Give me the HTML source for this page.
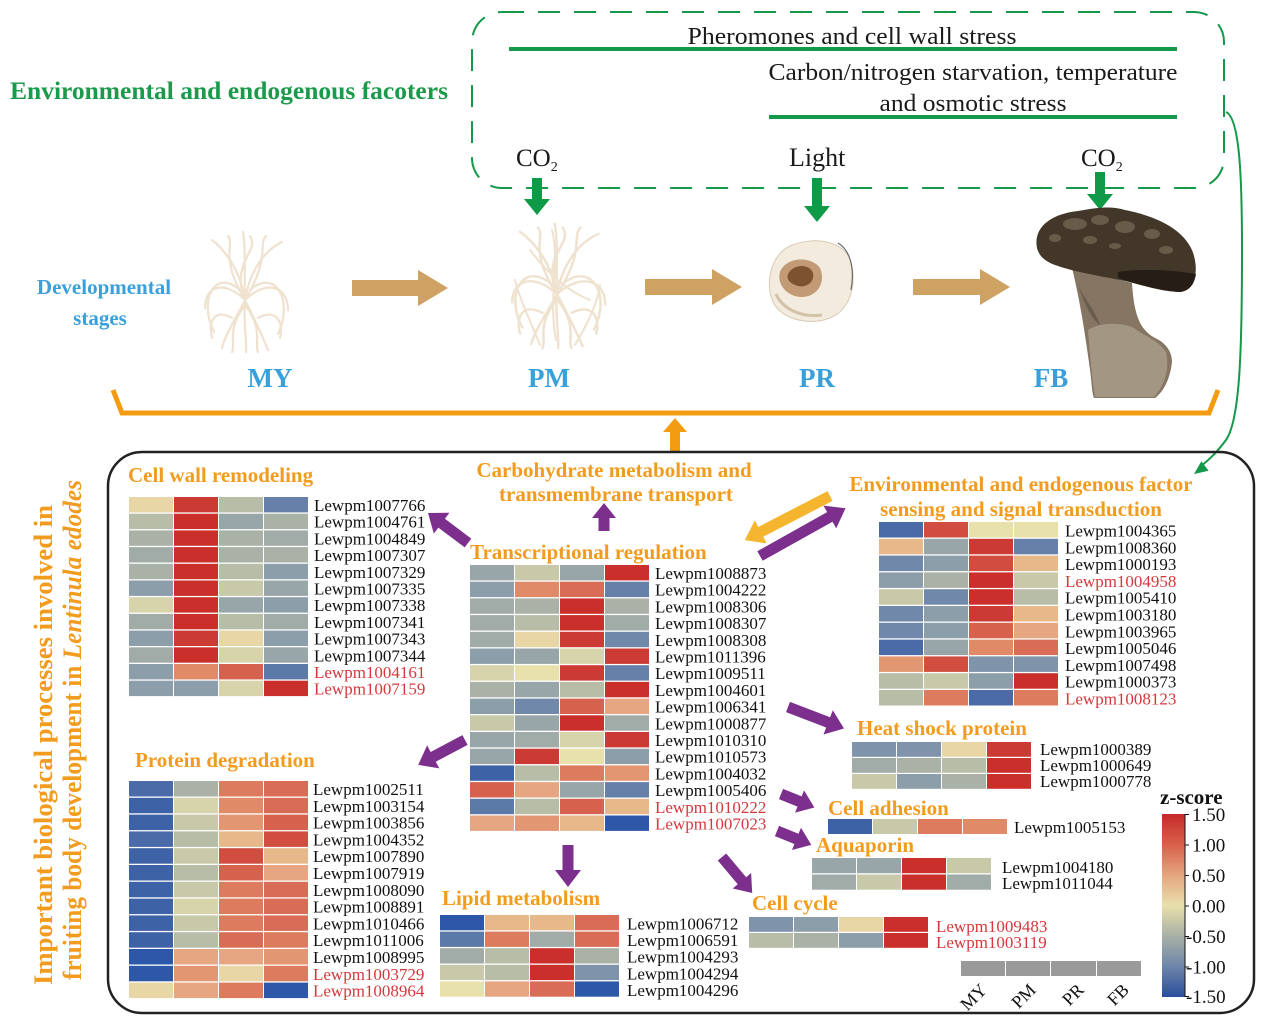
<!DOCTYPE html>
<html><head><meta charset="utf-8">
<style>
html,body{margin:0;padding:0;background:#fff;}
svg{display:block;}
text{font-family:"Liberation Serif","Times New Roman",serif;}
.ot{fill:#f29c1f;font-weight:bold;font-size:21px;}
.lb{font-size:17px;fill:#111;}
.rd{fill:#d4383c;}
.R{fill:#cb2f2b}.r{fill:#cc3b33}.o{fill:#d14d3f}.p{fill:#d6624e}.q{fill:#d86c56}.s{fill:#dc7b5d}.t{fill:#e08a67}.u{fill:#e29671}.v{fill:#e5a681}.w{fill:#e6b88a}.y{fill:#e8d6a6}.Y{fill:#e9e1ab}.z{fill:#d7d4ab}.g{fill:#c8c9a9}.h{fill:#b8bda7}.i{fill:#aab2a7}.j{fill:#a1aca9}.k{fill:#98a6aa}.m{fill:#8d9eab}.n{fill:#7f93ab}.b{fill:#7089ab}.B{fill:#6680a9}.c{fill:#5b7aa8}.d{fill:#4b6ba8}.e{fill:#3e62a6}.f{fill:#2d58a8}
</style></head>
<body>
<svg width="1267" height="1033" viewBox="0 0 1267 1033" xmlns="http://www.w3.org/2000/svg">
<defs>
<linearGradient id="cb" x1="0" y1="0" x2="0" y2="1">
<stop offset="0" stop-color="#c62a2a"/>
<stop offset="0.167" stop-color="#d8604a"/>
<stop offset="0.333" stop-color="#e5a57f"/>
<stop offset="0.5" stop-color="#e8e0ab"/>
<stop offset="0.667" stop-color="#a8b0a6"/>
<stop offset="0.833" stop-color="#6d86aa"/>
<stop offset="1" stop-color="#2b4d9e"/>
</linearGradient>
<g id="myc" fill="none" stroke="#efe2cf" stroke-width="2.2" stroke-linecap="round">
<path d="M245,300 C240,270 225,250 212,240"/>
<path d="M245,300 C250,270 265,250 282,242"/>
<path d="M245,300 C244,270 246,250 243,232"/>
<path d="M245,300 C225,280 205,285 205,308"/>
<path d="M245,300 C265,280 288,285 288,310"/>
<path d="M245,300 C235,320 225,335 222,348"/>
<path d="M245,300 C255,320 262,335 268,350"/>
<path d="M245,300 C243,320 247,340 246,352"/>
<path d="M240,290 C215,268 198,300 214,332"/>
<path d="M250,290 C275,268 294,300 278,334"/>
<path d="M245,300 C230,262 260,252 250,236"/>
<path d="M232,318 C214,308 208,322 212,338"/>
<path d="M258,318 C276,308 284,322 280,338"/>
<path d="M242,295 C220,255 235,245 228,236"/>
<path d="M248,295 C270,255 258,245 266,236"/>
<path d="M245,305 C226,330 236,344 232,352"/>
<path d="M245,305 C264,330 254,344 258,352"/>
</g>
</defs>

<!-- ===== TOP: dashed box ===== -->
<rect x="472" y="12" width="752" height="176" rx="30" fill="none" stroke="#14994a" stroke-width="2" stroke-dasharray="22,14"/>
<text x="852" y="44" text-anchor="middle" font-size="24.5" fill="#1a1a1a" textLength="329" lengthAdjust="spacingAndGlyphs">Pheromones and cell wall stress</text>
<rect x="509" y="47" width="668" height="4" fill="#14994a"/>
<text x="973" y="80" text-anchor="middle" font-size="24.5" fill="#1a1a1a" textLength="409" lengthAdjust="spacingAndGlyphs">Carbon/nitrogen starvation, temperature</text>
<text x="973" y="111" text-anchor="middle" font-size="24.5" fill="#1a1a1a" textLength="187" lengthAdjust="spacingAndGlyphs">and osmotic stress</text>
<rect x="769" y="115" width="408" height="4" fill="#14994a"/>
<text x="10" y="99" font-size="25" font-weight="bold" fill="#1a9a4a" textLength="438" lengthAdjust="spacingAndGlyphs">Environmental and endogenous facoters</text>

<!-- CO2 / Light -->
<text x="516" y="166" font-size="25" fill="#1a1a1a">CO<tspan font-size="14" dy="5">2</tspan></text>
<text x="789" y="166" font-size="26" fill="#1a1a1a">Light</text>
<text x="1081" y="166" font-size="25" fill="#1a1a1a">CO<tspan font-size="14" dy="5">2</tspan></text>

<!-- green arrows -->
<g fill="#0f9a48">
<polygon transform="translate(537,178) rotate(90)" points="0,-5 21,-5 21,-13 37,0 21,13 21,5 0,5"/>
<polygon transform="translate(817,178) rotate(90)" points="0,-5 28,-5 28,-13 44,0 28,13 28,5 0,5"/>
<polygon transform="translate(1100,172) rotate(90)" points="0,-5 22,-5 22,-13 38,0 22,13 22,5 0,5"/>
</g>

<!-- green curve arrow -->
<path d="M1226,112 C1240,118 1242,180 1242,250 C1242,350 1240,420 1226,440 C1215,455 1206,462 1200,467" fill="none" stroke="#14994a" stroke-width="2"/>
<polygon points="1194,474 1208.6,470.8 1201.4,461.2" fill="#14994a"/>

<!-- Developmental stages -->
<text x="104" y="294" text-anchor="middle" font-size="21" font-weight="bold" fill="#3aa0da">Developmental</text>
<text x="100" y="325" text-anchor="middle" font-size="21" font-weight="bold" fill="#3aa0da">stages</text>

<!-- mycelium -->
<use href="#myc"/>
<use href="#myc" transform="translate(557,289) scale(1.12,1.04) translate(-245,-295)"/>
<g fill="none" stroke="#efe2cf" stroke-width="2" stroke-linecap="round">
<path d="M540,345 C530,320 520,300 515,280"/>
<path d="M575,345 C590,320 598,300 600,285"/>
<path d="M552,230 C560,260 548,300 556,340"/>
<path d="M530,250 C545,270 565,290 590,300"/>
</g>

<!-- brown arrows -->
<g fill="#cda262">
<polygon transform="translate(352,288)" points="0,-8 66,-8 66,-18 96,0 66,18 66,8 0,8"/>
<polygon transform="translate(645,287)" points="0,-8 67,-8 67,-18 97,0 67,18 67,8 0,8"/>
<polygon transform="translate(913,287)" points="0,-8 67,-8 67,-18 97,0 67,18 67,8 0,8"/>
</g>

<!-- primordium -->
<path d="M790,246 C812,236 845,240 851,262 C857,285 850,310 830,318 C810,326 782,320 773,302 C765,284 770,256 790,246Z" fill="#f2ebde" stroke="#d9cbb4" stroke-width="1"/>
<path d="M838,243 C850,250 855,268 851,290" stroke="#6a6a6a" stroke-width="1.2" fill="none"/>
<path d="M780,272 C786,256 812,256 820,268 C826,282 818,296 803,297 C790,298 776,286 780,272Z" fill="#c29a76"/>
<path d="M788,274 C794,263 810,264 813,273 C815,282 806,288 798,286 C791,284 786,280 788,274Z" fill="#7c5230"/>
<path d="M776,294 C782,308 800,318 822,315" stroke="#d2c2a8" stroke-width="3" fill="none"/>

<!-- mushroom -->
<path d="M1072,268 C1080,300 1086,340 1090,370 C1092,385 1092,394 1094,398 L1155,398 C1163,392 1170,380 1172,362 C1172,350 1164,342 1155,338 C1140,330 1134,315 1132,283 Z" fill="#857562"/>
<path d="M1088,330 C1100,322 1122,322 1134,328 C1144,336 1158,340 1166,352 C1170,370 1164,386 1154,397 L1095,397 C1092,380 1090,355 1088,330Z" fill="#a39683"/>
<path d="M1078,285 C1085,300 1095,310 1100,325 C1092,320 1085,305 1078,285Z" fill="#6b5d4c"/>
<path d="M1037,248 C1033,228 1050,214 1078,211 C1100,207 1112,206 1125,210 C1155,216 1182,228 1192,250 C1200,270 1195,290 1180,292 C1160,292 1140,284 1120,280 C1100,276 1075,272 1058,266 C1045,262 1039,256 1037,248Z" fill="#433729"/>
<path d="M1118,272 C1140,268 1175,270 1196,274 C1194,286 1188,292 1178,292 C1158,290 1138,284 1118,278Z" fill="#261e16"/>
<g fill="#6e604e" opacity="0.9">
<ellipse cx="1075" cy="224" rx="12" ry="6"/>
<ellipse cx="1100" cy="220" rx="9" ry="5"/>
<ellipse cx="1125" cy="227" rx="10" ry="6"/>
<ellipse cx="1152" cy="234" rx="8" ry="5"/>
<ellipse cx="1090" cy="240" rx="7" ry="4"/>
<ellipse cx="1166" cy="250" rx="7" ry="4"/>
<ellipse cx="1055" cy="238" rx="6" ry="4"/>
<ellipse cx="1115" cy="246" rx="6" ry="3"/>
</g>

<!-- stage labels -->
<g font-size="27" font-weight="bold" fill="#3aa0da" text-anchor="middle">
<text x="270" y="387">MY</text>
<text x="549" y="387">PM</text>
<text x="817" y="387">PR</text>
<text x="1051" y="387">FB</text>
</g>

<!-- orange bracket -->
<polyline points="113,390 122,413 1209,413 1218,390" fill="none" stroke="#f39c12" stroke-width="5"/>
<polygon transform="translate(675,451) rotate(-90)" points="0,-5 19,-5 19,-12 33,0 19,12 19,5 0,5" fill="#f39c12"/>

<!-- ===== LOWER BOX ===== -->
<rect x="108" y="452" width="1146" height="561" rx="34" fill="none" stroke="#222" stroke-width="2.5"/>

<text text-anchor="middle" transform="translate(52,745) rotate(-90)" style="fill:#f29c1f;font-weight:bold;font-size:26px" textLength="480" lengthAdjust="spacingAndGlyphs">Important biological processes involved in</text>
<text text-anchor="middle" transform="translate(81,730) rotate(-90)" style="fill:#f29c1f;font-weight:bold;font-size:26px" textLength="500" lengthAdjust="spacingAndGlyphs">fruiting body development in <tspan font-style="italic">Lentinula edodes</tspan></text>

<!-- titles -->
<text class="ot" x="128" y="482">Cell wall remodeling</text>
<text class="ot" x="614" y="477" text-anchor="middle">Carbohydrate metabolism and</text>
<text class="ot" x="616" y="501" text-anchor="middle">transmembrane transport</text>
<text class="ot" x="1021" y="491" text-anchor="middle">Environmental and endogenous factor</text>
<text class="ot" x="1021" y="516" text-anchor="middle">sensing and signal transduction</text>
<text class="ot" x="470" y="559">Transcriptional regulation</text>
<text class="ot" x="135" y="767">Protein degradation</text>
<text class="ot" x="857" y="735">Heat shock protein</text>
<text class="ot" x="828" y="815">Cell adhesion</text>
<text class="ot" x="816" y="852">Aquaporin</text>
<text class="ot" x="442" y="905">Lipid metabolism</text>
<text class="ot" x="752" y="910">Cell cycle</text>

<!-- purple arrows -->
<g fill="#7d2f8e">
<polygon transform="translate(468,543) rotate(-143.1)" points="0,-5.5 33,-5.5 33,-13 50,0 33,13 33,5.5 0,5.5"/>
<polygon transform="translate(604,531) rotate(-90)" points="0,-5.5 13,-5.5 13,-12 28,0 13,12 13,5.5 0,5.5"/>
<polygon transform="translate(760,556) rotate(-29.2)" points="0,-5.5 80,-5.5 80,-13 98,0 80,13 80,5.5 0,5.5"/>
<polygon transform="translate(465,740) rotate(152)" points="0,-5.5 36,-5.5 36,-13 53,0 36,13 36,5.5 0,5.5"/>
<polygon transform="translate(568,845) rotate(90)" points="0,-5.5 25,-5.5 25,-13 42,0 25,13 25,5.5 0,5.5"/>
<polygon transform="translate(788,707) rotate(21)" points="0,-5.5 43,-5.5 43,-13 60,0 43,13 43,5.5 0,5.5"/>
<polygon transform="translate(781,794) rotate(22)" points="0,-5.5 20,-5.5 20,-12 36,0 20,12 20,5.5 0,5.5"/>
<polygon transform="translate(777,831) rotate(22)" points="0,-5.5 21,-5.5 21,-12 37,0 21,12 21,5.5 0,5.5"/>
<polygon transform="translate(722,857) rotate(50)" points="0,-5.5 31,-5.5 31,-12 47,0 31,12 31,5.5 0,5.5"/>
</g>
<polygon transform="translate(830,496) rotate(152.6)" points="0,-5.5 78,-5.5 78,-13 96,0 78,13 78,5.5 0,5.5" fill="#f5b52e"/>

<!-- ===== HEATMAP: Cell wall ===== -->
<g transform="translate(129,497)">
<g><rect class="y" x="0" y="0" width="44" height="15.4"/><rect class="r" x="45" y="0" width="44" height="15.4"/><rect class="h" x="90" y="0" width="44" height="15.4"/><rect class="B" x="135" y="0" width="44" height="15.4"/></g>
<g transform="translate(0,16.7)"><rect class="h" x="0" width="44" height="15.4"/><rect class="R" x="45" width="44" height="15.4"/><rect class="k" x="90" width="44" height="15.4"/><rect class="i" x="135" width="44" height="15.4"/></g>
<g transform="translate(0,33.4)"><rect class="i" x="0" width="44" height="15.4"/><rect class="R" x="45" width="44" height="15.4"/><rect class="i" x="90" width="44" height="15.4"/><rect class="j" x="135" width="44" height="15.4"/></g>
<g transform="translate(0,50.1)"><rect class="j" x="0" width="44" height="15.4"/><rect class="R" x="45" width="44" height="15.4"/><rect class="i" x="90" width="44" height="15.4"/><rect class="i" x="135" width="44" height="15.4"/></g>
<g transform="translate(0,66.8)"><rect class="i" x="0" width="44" height="15.4"/><rect class="R" x="45" width="44" height="15.4"/><rect class="h" x="90" width="44" height="15.4"/><rect class="m" x="135" width="44" height="15.4"/></g>
<g transform="translate(0,83.5)"><rect class="m" x="0" width="44" height="15.4"/><rect class="R" x="45" width="44" height="15.4"/><rect class="g" x="90" width="44" height="15.4"/><rect class="k" x="135" width="44" height="15.4"/></g>
<g transform="translate(0,100.2)"><rect class="z" x="0" width="44" height="15.4"/><rect class="R" x="45" width="44" height="15.4"/><rect class="k" x="90" width="44" height="15.4"/><rect class="m" x="135" width="44" height="15.4"/></g>
<g transform="translate(0,116.9)"><rect class="j" x="0" width="44" height="15.4"/><rect class="R" x="45" width="44" height="15.4"/><rect class="h" x="90" width="44" height="15.4"/><rect class="j" x="135" width="44" height="15.4"/></g>
<g transform="translate(0,133.6)"><rect class="m" x="0" width="44" height="15.4"/><rect class="r" x="45" width="44" height="15.4"/><rect class="y" x="90" width="44" height="15.4"/><rect class="m" x="135" width="44" height="15.4"/></g>
<g transform="translate(0,150.3)"><rect class="j" x="0" width="44" height="15.4"/><rect class="R" x="45" width="44" height="15.4"/><rect class="z" x="90" width="44" height="15.4"/><rect class="k" x="135" width="44" height="15.4"/></g>
<g transform="translate(0,167)"><rect class="m" x="0" width="44" height="15.4"/><rect class="t" x="45" width="44" height="15.4"/><rect class="p" x="90" width="44" height="15.4"/><rect class="c" x="135" width="44" height="15.4"/></g>
<g transform="translate(0,183.7)"><rect class="m" x="0" width="44" height="15.4"/><rect class="m" x="45" width="44" height="15.4"/><rect class="z" x="90" width="44" height="15.4"/><rect class="R" x="135" width="44" height="15.4"/></g>
</g>
<text class="lb" x="314" y="511"><tspan x="314">Lewpm1007766</tspan><tspan x="314" dy="16.7">Lewpm1004761</tspan><tspan x="314" dy="16.7">Lewpm1004849</tspan><tspan x="314" dy="16.7">Lewpm1007307</tspan><tspan x="314" dy="16.7">Lewpm1007329</tspan><tspan x="314" dy="16.7">Lewpm1007335</tspan><tspan x="314" dy="16.7">Lewpm1007338</tspan><tspan x="314" dy="16.7">Lewpm1007341</tspan><tspan x="314" dy="16.7">Lewpm1007343</tspan><tspan x="314" dy="16.7">Lewpm1007344</tspan><tspan class="rd" x="314" dy="16.7">Lewpm1004161</tspan><tspan class="rd" x="314" dy="16.7">Lewpm1007159</tspan></text>

<!-- ===== HEATMAP: Transcriptional regulation ===== -->
<g transform="translate(470,565)">
<g><rect class="k" x="0" width="44" height="15.4"/><rect class="g" x="45" width="44" height="15.4"/><rect class="k" x="90" width="44" height="15.4"/><rect class="R" x="135" width="44" height="15.4"/></g>
<g transform="translate(0,16.7)"><rect class="m" x="0" width="44" height="15.4"/><rect class="t" x="45" width="44" height="15.4"/><rect class="q" x="90" width="44" height="15.4"/><rect class="B" x="135" width="44" height="15.4"/></g>
<g transform="translate(0,33.4)"><rect class="j" x="0" width="44" height="15.4"/><rect class="i" x="45" width="44" height="15.4"/><rect class="R" x="90" width="44" height="15.4"/><rect class="i" x="135" width="44" height="15.4"/></g>
<g transform="translate(0,50.1)"><rect class="j" x="0" width="44" height="15.4"/><rect class="h" x="45" width="44" height="15.4"/><rect class="R" x="90" width="44" height="15.4"/><rect class="j" x="135" width="44" height="15.4"/></g>
<g transform="translate(0,66.8)"><rect class="j" x="0" width="44" height="15.4"/><rect class="y" x="45" width="44" height="15.4"/><rect class="r" x="90" width="44" height="15.4"/><rect class="b" x="135" width="44" height="15.4"/></g>
<g transform="translate(0,83.5)"><rect class="m" x="0" width="44" height="15.4"/><rect class="k" x="45" width="44" height="15.4"/><rect class="z" x="90" width="44" height="15.4"/><rect class="r" x="135" width="44" height="15.4"/></g>
<g transform="translate(0,100.2)"><rect class="z" x="0" width="44" height="15.4"/><rect class="Y" x="45" width="44" height="15.4"/><rect class="r" x="90" width="44" height="15.4"/><rect class="B" x="135" width="44" height="15.4"/></g>
<g transform="translate(0,116.9)"><rect class="i" x="0" width="44" height="15.4"/><rect class="k" x="45" width="44" height="15.4"/><rect class="h" x="90" width="44" height="15.4"/><rect class="R" x="135" width="44" height="15.4"/></g>
<g transform="translate(0,133.6)"><rect class="m" x="0" width="44" height="15.4"/><rect class="b" x="45" width="44" height="15.4"/><rect class="p" x="90" width="44" height="15.4"/><rect class="v" x="135" width="44" height="15.4"/></g>
<g transform="translate(0,150.3)"><rect class="g" x="0" width="44" height="15.4"/><rect class="k" x="45" width="44" height="15.4"/><rect class="R" x="90" width="44" height="15.4"/><rect class="j" x="135" width="44" height="15.4"/></g>
<g transform="translate(0,167)"><rect class="k" x="0" width="44" height="15.4"/><rect class="j" x="45" width="44" height="15.4"/><rect class="z" x="90" width="44" height="15.4"/><rect class="r" x="135" width="44" height="15.4"/></g>
<g transform="translate(0,183.7)"><rect class="k" x="0" width="44" height="15.4"/><rect class="r" x="45" width="44" height="15.4"/><rect class="Y" x="90" width="44" height="15.4"/><rect class="m" x="135" width="44" height="15.4"/></g>
<g transform="translate(0,200.4)"><rect class="e" x="0" width="44" height="15.4"/><rect class="h" x="45" width="44" height="15.4"/><rect class="s" x="90" width="44" height="15.4"/><rect class="u" x="135" width="44" height="15.4"/></g>
<g transform="translate(0,217.1)"><rect class="p" x="0" width="44" height="15.4"/><rect class="v" x="45" width="44" height="15.4"/><rect class="k" x="90" width="44" height="15.4"/><rect class="B" x="135" width="44" height="15.4"/></g>
<g transform="translate(0,233.8)"><rect class="c" x="0" width="44" height="15.4"/><rect class="h" x="45" width="44" height="15.4"/><rect class="p" x="90" width="44" height="15.4"/><rect class="w" x="135" width="44" height="15.4"/></g>
<g transform="translate(0,250.5)"><rect class="v" x="0" width="44" height="15.4"/><rect class="u" x="45" width="44" height="15.4"/><rect class="w" x="90" width="44" height="15.4"/><rect class="f" x="135" width="44" height="15.4"/></g>
</g>
<text class="lb" x="655" y="579"><tspan x="655">Lewpm1008873</tspan><tspan x="655" dy="16.7">Lewpm1004222</tspan><tspan x="655" dy="16.7">Lewpm1008306</tspan><tspan x="655" dy="16.7">Lewpm1008307</tspan><tspan x="655" dy="16.7">Lewpm1008308</tspan><tspan x="655" dy="16.7">Lewpm1011396</tspan><tspan x="655" dy="16.7">Lewpm1009511</tspan><tspan x="655" dy="16.7">Lewpm1004601</tspan><tspan x="655" dy="16.7">Lewpm1006341</tspan><tspan x="655" dy="16.7">Lewpm1000877</tspan><tspan x="655" dy="16.7">Lewpm1010310</tspan><tspan x="655" dy="16.7">Lewpm1010573</tspan><tspan x="655" dy="16.7">Lewpm1004032</tspan><tspan x="655" dy="16.7">Lewpm1005406</tspan><tspan class="rd" x="655" dy="16.7">Lewpm1010222</tspan><tspan class="rd" x="655" dy="16.7">Lewpm1007023</tspan></text>

<!-- ===== HEATMAP: Environmental ===== -->
<g transform="translate(879,522)">
<g><rect class="d" x="0" width="44" height="15.5"/><rect class="o" x="45" width="44" height="15.5"/><rect class="Y" x="90" width="44" height="15.5"/><rect class="Y" x="135" width="44" height="15.5"/></g>
<g transform="translate(0,16.8)"><rect class="w" x="0" width="44" height="15.5"/><rect class="k" x="45" width="44" height="15.5"/><rect class="r" x="90" width="44" height="15.5"/><rect class="B" x="135" width="44" height="15.5"/></g>
<g transform="translate(0,33.6)"><rect class="b" x="0" width="44" height="15.5"/><rect class="m" x="45" width="44" height="15.5"/><rect class="o" x="90" width="44" height="15.5"/><rect class="w" x="135" width="44" height="15.5"/></g>
<g transform="translate(0,50.4)"><rect class="m" x="0" width="44" height="15.5"/><rect class="i" x="45" width="44" height="15.5"/><rect class="R" x="90" width="44" height="15.5"/><rect class="g" x="135" width="44" height="15.5"/></g>
<g transform="translate(0,67.2)"><rect class="g" x="0" width="44" height="15.5"/><rect class="b" x="45" width="44" height="15.5"/><rect class="R" x="90" width="44" height="15.5"/><rect class="h" x="135" width="44" height="15.5"/></g>
<g transform="translate(0,84)"><rect class="b" x="0" width="44" height="15.5"/><rect class="m" x="45" width="44" height="15.5"/><rect class="r" x="90" width="44" height="15.5"/><rect class="w" x="135" width="44" height="15.5"/></g>
<g transform="translate(0,100.8)"><rect class="b" x="0" width="44" height="15.5"/><rect class="m" x="45" width="44" height="15.5"/><rect class="p" x="90" width="44" height="15.5"/><rect class="v" x="135" width="44" height="15.5"/></g>
<g transform="translate(0,117.6)"><rect class="d" x="0" width="44" height="15.5"/><rect class="k" x="45" width="44" height="15.5"/><rect class="t" x="90" width="44" height="15.5"/><rect class="q" x="135" width="44" height="15.5"/></g>
<g transform="translate(0,134.4)"><rect class="u" x="0" width="44" height="15.5"/><rect class="o" x="45" width="44" height="15.5"/><rect class="n" x="90" width="44" height="15.5"/><rect class="n" x="135" width="44" height="15.5"/></g>
<g transform="translate(0,151.2)"><rect class="h" x="0" width="44" height="15.5"/><rect class="g" x="45" width="44" height="15.5"/><rect class="m" x="90" width="44" height="15.5"/><rect class="R" x="135" width="44" height="15.5"/></g>
<g transform="translate(0,168)"><rect class="h" x="0" width="44" height="15.5"/><rect class="s" x="45" width="44" height="15.5"/><rect class="d" x="90" width="44" height="15.5"/><rect class="s" x="135" width="44" height="15.5"/></g>
</g>
<text class="lb" x="1065" y="536.5"><tspan x="1065">Lewpm1004365</tspan><tspan x="1065" dy="16.8">Lewpm1008360</tspan><tspan x="1065" dy="16.8">Lewpm1000193</tspan><tspan class="rd" x="1065" dy="16.8">Lewpm1004958</tspan><tspan x="1065" dy="16.8">Lewpm1005410</tspan><tspan x="1065" dy="16.8">Lewpm1003180</tspan><tspan x="1065" dy="16.8">Lewpm1003965</tspan><tspan x="1065" dy="16.8">Lewpm1005046</tspan><tspan x="1065" dy="16.8">Lewpm1007498</tspan><tspan x="1065" dy="16.8">Lewpm1000373</tspan><tspan class="rd" x="1065" dy="16.8">Lewpm1008123</tspan></text>

<!-- ===== HEATMAP: Protein degradation ===== -->
<g transform="translate(129,781)">
<g><rect class="d" x="0" width="44" height="15.5"/><rect class="i" x="45" width="44" height="15.5"/><rect class="s" x="90" width="44" height="15.5"/><rect class="q" x="135" width="44" height="15.5"/></g>
<g transform="translate(0,16.8)"><rect class="e" x="0" width="44" height="15.5"/><rect class="z" x="45" width="44" height="15.5"/><rect class="t" x="90" width="44" height="15.5"/><rect class="q" x="135" width="44" height="15.5"/></g>
<g transform="translate(0,33.6)"><rect class="e" x="0" width="44" height="15.5"/><rect class="g" x="45" width="44" height="15.5"/><rect class="u" x="90" width="44" height="15.5"/><rect class="p" x="135" width="44" height="15.5"/></g>
<g transform="translate(0,50.4)"><rect class="d" x="0" width="44" height="15.5"/><rect class="h" x="45" width="44" height="15.5"/><rect class="w" x="90" width="44" height="15.5"/><rect class="o" x="135" width="44" height="15.5"/></g>
<g transform="translate(0,67.2)"><rect class="e" x="0" width="44" height="15.5"/><rect class="g" x="45" width="44" height="15.5"/><rect class="o" x="90" width="44" height="15.5"/><rect class="w" x="135" width="44" height="15.5"/></g>
<g transform="translate(0,84)"><rect class="e" x="0" width="44" height="15.5"/><rect class="h" x="45" width="44" height="15.5"/><rect class="p" x="90" width="44" height="15.5"/><rect class="v" x="135" width="44" height="15.5"/></g>
<g transform="translate(0,100.8)"><rect class="e" x="0" width="44" height="15.5"/><rect class="g" x="45" width="44" height="15.5"/><rect class="s" x="90" width="44" height="15.5"/><rect class="q" x="135" width="44" height="15.5"/></g>
<g transform="translate(0,117.6)"><rect class="e" x="0" width="44" height="15.5"/><rect class="z" x="45" width="44" height="15.5"/><rect class="s" x="90" width="44" height="15.5"/><rect class="q" x="135" width="44" height="15.5"/></g>
<g transform="translate(0,134.4)"><rect class="e" x="0" width="44" height="15.5"/><rect class="g" x="45" width="44" height="15.5"/><rect class="s" x="90" width="44" height="15.5"/><rect class="q" x="135" width="44" height="15.5"/></g>
<g transform="translate(0,151.2)"><rect class="e" x="0" width="44" height="15.5"/><rect class="h" x="45" width="44" height="15.5"/><rect class="q" x="90" width="44" height="15.5"/><rect class="s" x="135" width="44" height="15.5"/></g>
<g transform="translate(0,168)"><rect class="f" x="0" width="44" height="15.5"/><rect class="v" x="45" width="44" height="15.5"/><rect class="v" x="90" width="44" height="15.5"/><rect class="u" x="135" width="44" height="15.5"/></g>
<g transform="translate(0,184.8)"><rect class="f" x="0" width="44" height="15.5"/><rect class="u" x="45" width="44" height="15.5"/><rect class="y" x="90" width="44" height="15.5"/><rect class="s" x="135" width="44" height="15.5"/></g>
<g transform="translate(0,201.6)"><rect class="y" x="0" width="44" height="15.5"/><rect class="v" x="45" width="44" height="15.5"/><rect class="s" x="90" width="44" height="15.5"/><rect class="f" x="135" width="44" height="15.5"/></g>
</g>
<text class="lb" x="313" y="795"><tspan x="313">Lewpm1002511</tspan><tspan x="313" dy="16.8">Lewpm1003154</tspan><tspan x="313" dy="16.8">Lewpm1003856</tspan><tspan x="313" dy="16.8">Lewpm1004352</tspan><tspan x="313" dy="16.8">Lewpm1007890</tspan><tspan x="313" dy="16.8">Lewpm1007919</tspan><tspan x="313" dy="16.8">Lewpm1008090</tspan><tspan x="313" dy="16.8">Lewpm1008891</tspan><tspan x="313" dy="16.8">Lewpm1010466</tspan><tspan x="313" dy="16.8">Lewpm1011006</tspan><tspan x="313" dy="16.8">Lewpm1008995</tspan><tspan class="rd" x="313" dy="16.8">Lewpm1003729</tspan><tspan class="rd" x="313" dy="16.8">Lewpm1008964</tspan></text>

<!-- ===== HEATMAP: Lipid ===== -->
<g transform="translate(440,915)">
<g><rect class="f" x="0" width="44" height="15.3"/><rect class="w" x="45" width="44" height="15.3"/><rect class="w" x="90" width="44" height="15.3"/><rect class="q" x="135" width="44" height="15.3"/></g>
<g transform="translate(0,16.6)"><rect class="c" x="0" width="44" height="15.3"/><rect class="s" x="45" width="44" height="15.3"/><rect class="j" x="90" width="44" height="15.3"/><rect class="q" x="135" width="44" height="15.3"/></g>
<g transform="translate(0,33.2)"><rect class="j" x="0" width="44" height="15.3"/><rect class="h" x="45" width="44" height="15.3"/><rect class="R" x="90" width="44" height="15.3"/><rect class="i" x="135" width="44" height="15.3"/></g>
<g transform="translate(0,49.8)"><rect class="g" x="0" width="44" height="15.3"/><rect class="h" x="45" width="44" height="15.3"/><rect class="R" x="90" width="44" height="15.3"/><rect class="n" x="135" width="44" height="15.3"/></g>
<g transform="translate(0,66.4)"><rect class="Y" x="0" width="44" height="15.3"/><rect class="v" x="45" width="44" height="15.3"/><rect class="q" x="90" width="44" height="15.3"/><rect class="f" x="135" width="44" height="15.3"/></g>
</g>
<text class="lb" x="627" y="929.5"><tspan x="627">Lewpm1006712</tspan><tspan x="627" dy="16.6">Lewpm1006591</tspan><tspan x="627" dy="16.6">Lewpm1004293</tspan><tspan x="627" dy="16.6">Lewpm1004294</tspan><tspan x="627" dy="16.6">Lewpm1004296</tspan></text>

<!-- ===== HEATMAP: Heat shock ===== -->
<g transform="translate(852,742)">
<g><rect class="n" x="0" width="44" height="14.8"/><rect class="n" x="45" width="44" height="14.8"/><rect class="y" x="90" width="44" height="14.8"/><rect class="r" x="135" width="44" height="14.8"/></g>
<g transform="translate(0,16)"><rect class="j" x="0" width="44" height="14.8"/><rect class="i" x="45" width="44" height="14.8"/><rect class="h" x="90" width="44" height="14.8"/><rect class="R" x="135" width="44" height="14.8"/></g>
<g transform="translate(0,32)"><rect class="g" x="0" width="44" height="14.8"/><rect class="m" x="45" width="44" height="14.8"/><rect class="i" x="90" width="44" height="14.8"/><rect class="R" x="135" width="44" height="14.8"/></g>
</g>
<text class="lb" x="1040" y="755"><tspan x="1040">Lewpm1000389</tspan><tspan x="1040" dy="16">Lewpm1000649</tspan><tspan x="1040" dy="16">Lewpm1000778</tspan></text>

<!-- Cell adhesion -->
<g transform="translate(828,819)">
<rect class="e" x="0" width="44" height="15"/><rect class="g" x="45" width="44" height="15"/><rect class="s" x="90" width="44" height="15"/><rect class="t" x="135" width="44" height="15"/>
</g>
<text class="lb" x="1014" y="833">Lewpm1005153</text>

<!-- Aquaporin -->
<g transform="translate(812,858)">
<g><rect class="k" x="0" width="44" height="15.2"/><rect class="k" x="45" width="44" height="15.2"/><rect class="R" x="90" width="44" height="15.2"/><rect class="g" x="135" width="44" height="15.2"/></g>
<g transform="translate(0,16.5)"><rect class="j" x="0" width="44" height="15.2"/><rect class="g" x="45" width="44" height="15.2"/><rect class="R" x="90" width="44" height="15.2"/><rect class="j" x="135" width="44" height="15.2"/></g>
</g>
<text class="lb" x="1002" y="873"><tspan x="1002">Lewpm1004180</tspan><tspan x="1002" dy="16">Lewpm1011044</tspan></text>

<!-- Cell cycle -->
<g transform="translate(749,917)">
<g><rect class="n" x="0" width="44" height="14.8"/><rect class="m" x="45" width="44" height="14.8"/><rect class="y" x="90" width="44" height="14.8"/><rect class="R" x="135" width="44" height="14.8"/></g>
<g transform="translate(0,16)"><rect class="h" x="0" width="44" height="14.8"/><rect class="i" x="45" width="44" height="14.8"/><rect class="m" x="90" width="44" height="14.8"/><rect class="R" x="135" width="44" height="14.8"/></g>
</g>
<text class="lb" x="936" y="932"><tspan class="rd" x="936">Lewpm1009483</tspan><tspan class="rd" x="936" dy="16">Lewpm1003119</tspan></text>

<!-- legend gray bar -->
<g fill="#9a9a9a">
<rect x="961" y="961" width="44" height="15"/><rect x="1006" y="961" width="44" height="15"/><rect x="1051" y="961" width="45" height="15"/><rect x="1097" y="961" width="44" height="15"/>
</g>
<g font-size="18" fill="#111" text-anchor="end">
<text transform="translate(988,991) rotate(-45)">MY</text>
<text transform="translate(1037,991) rotate(-45)">PM</text>
<text transform="translate(1085,991) rotate(-45)">PR</text>
<text transform="translate(1130,991) rotate(-45)">FB</text>
</g>

<!-- colorbar -->
<text x="1160" y="804" font-size="21" font-weight="bold" fill="#111">z-score</text>
<rect x="1162" y="814" width="23" height="183" fill="url(#cb)"/>
<g stroke="#111" stroke-width="1">
<line x1="1185" y1="814" x2="1185" y2="997"/>
<line x1="1185" y1="814.5" x2="1189" y2="814.5"/>
<line x1="1185" y1="845" x2="1189" y2="845"/>
<line x1="1185" y1="875.5" x2="1189" y2="875.5"/>
<line x1="1185" y1="906" x2="1189" y2="906"/>
<line x1="1185" y1="936.5" x2="1189" y2="936.5"/>
<line x1="1185" y1="967" x2="1189" y2="967"/>
<line x1="1185" y1="996.5" x2="1189" y2="996.5"/>
</g>
<g font-size="19" fill="#111">
<text x="1192" y="821">1.50</text>
<text x="1192" y="851.5">1.00</text>
<text x="1192" y="882">0.50</text>
<text x="1192" y="912.5">0.00</text>
<text x="1186" y="943">-0.50</text>
<text x="1186" y="973.5">-1.00</text>
<text x="1186" y="1003">-1.50</text>
</g>
</svg>
</body></html>
